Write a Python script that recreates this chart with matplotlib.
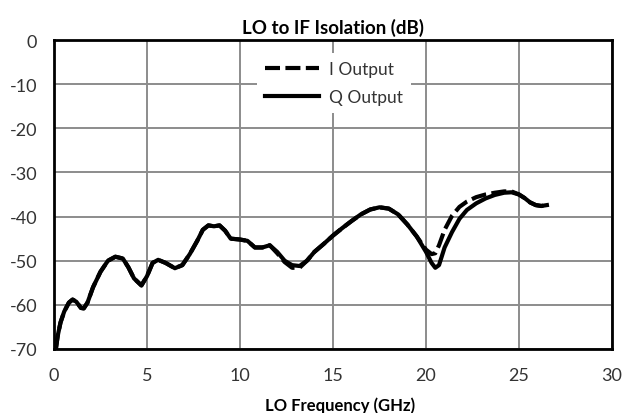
import matplotlib
matplotlib.use("Agg")
import matplotlib.pyplot as plt

freq_q = [0.1, 0.2, 0.35, 0.55, 0.8, 1.0, 1.2, 1.45, 1.6, 1.8, 2.1, 2.5, 2.9, 3.3, 3.7,
          4.0, 4.3, 4.7, 5.0, 5.3, 5.6, 6.0, 6.5, 6.9, 7.3, 7.7, 8.0, 8.3, 8.6, 8.9,
          9.2, 9.5, 10.0, 10.4, 10.8, 11.2, 11.6, 12.0, 12.4, 12.8, 13.2, 13.6, 14.0,
          14.5, 15.0, 15.5, 16.0, 16.5, 17.0, 17.5, 18.0, 18.5, 19.0, 19.5, 20.0, 20.3,
          20.5, 20.7, 21.0, 21.4, 21.8, 22.2, 22.7, 23.2, 23.7, 24.2, 24.6, 25.0, 25.3,
          25.6, 25.9, 26.2, 26.5]
q_output = [-70, -67, -64, -61.5, -59.5, -58.8, -59.3, -60.7, -60.8, -59.5, -56, -52.5,
            -50, -49.1, -49.5, -51.5, -54, -55.6, -53.5, -50.5, -49.8, -50.5, -51.7, -51,
            -48.5, -45.5, -43, -42, -42.2, -42, -43.2, -45, -45.2, -45.5, -47, -47, -46.5,
            -48, -50, -51, -51.2, -50, -48, -46.2, -44.3, -42.6, -41, -39.5, -38.4, -37.9,
            -38.2, -39.5, -41.8, -44.5, -48, -50.5, -51.6, -51, -47, -43.5, -40.5, -38.5,
            -37, -35.9, -35.1, -34.6, -34.5, -35, -35.8, -36.8, -37.4, -37.6, -37.4]

freq_i = [0.1, 0.2, 0.35, 0.55, 0.8, 1.0, 1.2, 1.45, 1.6, 1.8, 2.1, 2.5, 2.9, 3.3, 3.7,
          4.0, 4.3, 4.7, 5.0, 5.3, 5.6, 6.0, 6.5, 6.9, 7.3, 7.7, 8.0, 8.3, 8.6, 8.9,
          9.2, 9.5, 10.0, 10.4, 10.8, 11.2, 11.6, 12.0, 12.4, 12.8, 13.2, 13.6, 14.0,
          14.5, 15.0, 15.5, 16.0, 16.5, 17.0, 17.5, 18.0, 18.5, 19.0, 19.5, 20.0, 20.3,
          20.5, 20.7, 21.0, 21.4, 21.8, 22.2, 22.7, 23.2, 23.7, 24.2, 24.6, 25.0, 25.3,
          25.6, 25.9, 26.2, 26.5]
i_output = [-70, -67, -64, -61.5, -59.5, -58.8, -59.3, -60.7, -60.8, -59.5, -56, -52.5,
            -50, -49.1, -49.5, -51.5, -54, -55.6, -53.5, -50.5, -49.8, -50.5, -51.7, -51,
            -48.5, -45.5, -43, -42, -42.2, -42, -43.2, -45, -45.2, -45.5, -47, -47, -46.5,
            -48.3, -50.3, -51.6, -51.6, -50, -48, -46.2, -44.3, -42.6, -41, -39.5, -38.4,
            -37.9, -38.2, -39.5, -41.8, -44.5, -47.5, -48.5, -48.3, -46.5, -43, -39.8,
            -37.8, -36.6, -35.6, -35, -34.6, -34.3, -34.3, -35, -35.8, -36.8, -37.4,
            -37.6, -37.4]

x_ticks = [0, 5, 10, 15, 20, 25, 30]
y_ticks = [0, -10, -20, -30, -40, -50, -60, -70]

plt.rcParams['font.family'] = ['Lato', 'DejaVu Sans']
plt.rcParams['axes.unicode_minus'] = False

W, H = 623, 414
fig = plt.figure(figsize=(W / 100, H / 100), dpi=100)
ax = fig.add_axes([54 / W, 1 - 350 / H, (612 - 54) / W, (350 - 41) / H])

ax.plot(freq_i, i_output, color='black', lw=3.0, ls=(0, (3.6, 1.3)), label='I Output',
        solid_capstyle='butt', dash_capstyle='butt', zorder=3)
ax.plot(freq_q, q_output, color='black', lw=3.0, label='Q Output', zorder=4)

ax.set_xlim(0, 30)
ax.set_ylim(-70, 0)
ax.set_xticks(x_ticks)
ax.set_yticks(y_ticks)
ax.tick_params(length=0, labelsize=13, colors='#333333', pad=12)
ax.tick_params(axis='x', pad=13)
ax.grid(True, color='#8c8c8c', lw=1.4)
ax.set_axisbelow(True)
for s in ax.spines.values():
    s.set_linewidth(2)
    s.set_color('black')
    s.set_zorder(5)

ax.set_title('LO to IF Isolation (dB)', fontsize=13.5, fontweight='bold', pad=5)
fig.text(340 / W, (414 - 397) / H, 'LO Frequency (GHz)', fontsize=12, fontweight='bold',
         ha='center', va='top')

leg = ax.legend(loc='upper left', bbox_to_anchor=((248 - 54) / (612 - 54), 1 - 4 / 309),
                fontsize=12.5, frameon=True, facecolor='white', edgecolor='none',
                framealpha=1, fancybox=False, handlelength=3.1, handletextpad=0.55,
                labelspacing=0.65, borderpad=0.5)
leg.set_zorder(6)
for t in leg.get_texts():
    t.set_color('#333333')

fig.savefig('out.png', dpi=100)
